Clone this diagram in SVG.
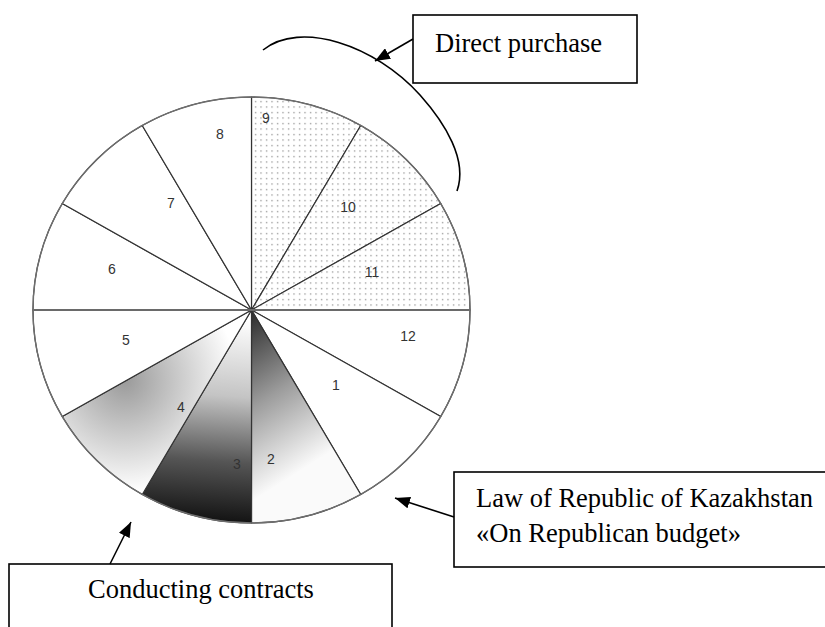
<svg xmlns="http://www.w3.org/2000/svg" width="825" height="627" viewBox="0 0 825 627">
<style>
.sl{stroke:#333;stroke-width:1.2;stroke-linejoin:round}
.w{fill:#fff}
.num{font-family:"Liberation Sans",Arial,sans-serif;font-size:14px;fill:#333;text-anchor:middle}
.box{fill:#fff;stroke:#000;stroke-width:1.6}
.bt{font-family:"Liberation Serif","Times New Roman",serif;font-size:26.5px;fill:#000}
.con{fill:none;stroke:#000;stroke-width:1.6}
</style>
<defs>
<pattern id="dots" width="5.5" height="5.5" patternUnits="userSpaceOnUse">
<rect width="5.5" height="5.5" fill="#fff"/>
<rect x="2" y="2" width="1.1" height="1.1" fill="#666"/>
</pattern>
<linearGradient id="g2" gradientUnits="userSpaceOnUse" x1="245" y1="318" x2="330" y2="452">
<stop offset="0" stop-color="#2e2e2e"/>
<stop offset="0.5" stop-color="#9c9c9c"/>
<stop offset="1" stop-color="#fafafa"/>
</linearGradient>
<linearGradient id="g3" gradientUnits="userSpaceOnUse" x1="230" y1="318" x2="215" y2="523">
<stop offset="0" stop-color="#ffffff"/>
<stop offset="0.38" stop-color="#c4c4c4"/>
<stop offset="0.7" stop-color="#555555"/>
<stop offset="1" stop-color="#111111"/>
</linearGradient>
<radialGradient id="g4" gradientUnits="userSpaceOnUse" cx="125" cy="380" r="112">
<stop offset="0" stop-color="#9a9a9a"/>
<stop offset="1" stop-color="#ffffff"/>
</radialGradient>
<marker id="ah" viewBox="0 0 15 12" refX="15" refY="6" markerWidth="15" markerHeight="12" markerUnits="userSpaceOnUse" orient="auto">
<path d="M0,0 L15,6 L0,12 z" fill="#000"/>
</marker>
</defs>
<rect width="825" height="627" fill="#fff"/>

<g id="pie">
<g id="slice9"><path class="sl" fill="url(#dots)" d="M251.5,310 L251.5,97 A218.5,213 0 0 1 360.75,125.54 Z"/><text class="num" x="266" y="122.5">9</text></g>
<g id="slice10"><path class="sl" fill="url(#dots)" d="M251.5,310 L360.75,125.54 A218.5,213 0 0 1 440.73,203.5 Z"/><text class="num" x="348" y="211.5">10</text></g>
<g id="slice11"><path class="sl" fill="url(#dots)" d="M251.5,310 L440.73,203.5 A218.5,213 0 0 1 470,310 Z"/><text class="num" x="372" y="276.5">11</text></g>
<g id="slice12"><path class="sl w" d="M251.5,310 L470,310 A218.5,213 0 0 1 440.73,416.5 Z"/><text class="num" x="408" y="341">12</text></g>
<g id="slice1"><path class="sl w" d="M251.5,310 L440.73,416.5 A218.5,213 0 0 1 360.75,494.46 Z"/><text class="num" x="336" y="390">1</text></g>
<g id="slice2"><path class="sl" fill="url(#g2)" d="M251.5,310 L360.75,494.46 A218.5,213 0 0 1 251.5,523 Z"/><text class="num" x="271" y="464">2</text></g>
<g id="slice3"><path class="sl" fill="url(#g3)" d="M251.5,310 L251.5,523 A218.5,213 0 0 1 142.25,494.46 Z"/><text class="num" x="237" y="469">3</text></g>
<g id="slice4"><path class="sl" fill="url(#g4)" d="M251.5,310 L142.25,494.46 A218.5,213 0 0 1 62.27,416.5 Z"/><text class="num" x="181" y="412">4</text></g>
<g id="slice5"><path class="sl w" d="M251.5,310 L62.27,416.5 A218.5,213 0 0 1 33,310 Z"/><text class="num" x="126" y="345">5</text></g>
<g id="slice6"><path class="sl w" d="M251.5,310 L33,310 A218.5,213 0 0 1 62.27,203.5 Z"/><text class="num" x="112" y="274">6</text></g>
<g id="slice7"><path class="sl w" d="M251.5,310 L62.27,203.5 A218.5,213 0 0 1 142.25,125.54 Z"/><text class="num" x="171" y="207.5">7</text></g>
<g id="slice8"><path class="sl w" d="M251.5,310 L142.25,125.54 A218.5,213 0 0 1 251.5,97 Z"/><text class="num" x="220" y="139">8</text></g>
<line x1="33" y1="310" x2="470" y2="310" stroke="#6a6a6a" stroke-width="1.8"/>
<ellipse cx="251.5" cy="310" rx="218.5" ry="213" fill="none" stroke="#6e6e6e" stroke-width="1.4"/>
</g>

<g id="direct-purchase">
<rect class="box" x="413" y="15" width="224" height="68"/>
<text class="bt" x="435" y="51.5">Direct purchase</text>
</g>
<g id="law">
<rect class="box" x="454" y="472" width="380" height="95"/>
<text class="bt" x="476" y="507">Law of Republic of Kazakhstan</text>
<text class="bt" x="476" y="541.5">«On Republican budget»</text>
</g>
<g id="conducting">
<rect class="box" x="9" y="564" width="383" height="80"/>
<text class="bt" x="88" y="598">Conducting contracts</text>
</g>

<g id="connectors">
<path class="con" d="M263,50 C300,20 375,45 420,95 C445,123 468,160 457,191"/>
<line class="con" x1="413" y1="39" x2="375" y2="61" marker-end="url(#ah)"/>
<line class="con" x1="454" y1="517" x2="395" y2="498" marker-end="url(#ah)"/>
<line class="con" x1="110" y1="564" x2="131" y2="522" marker-end="url(#ah)"/>
</g>
</svg>
